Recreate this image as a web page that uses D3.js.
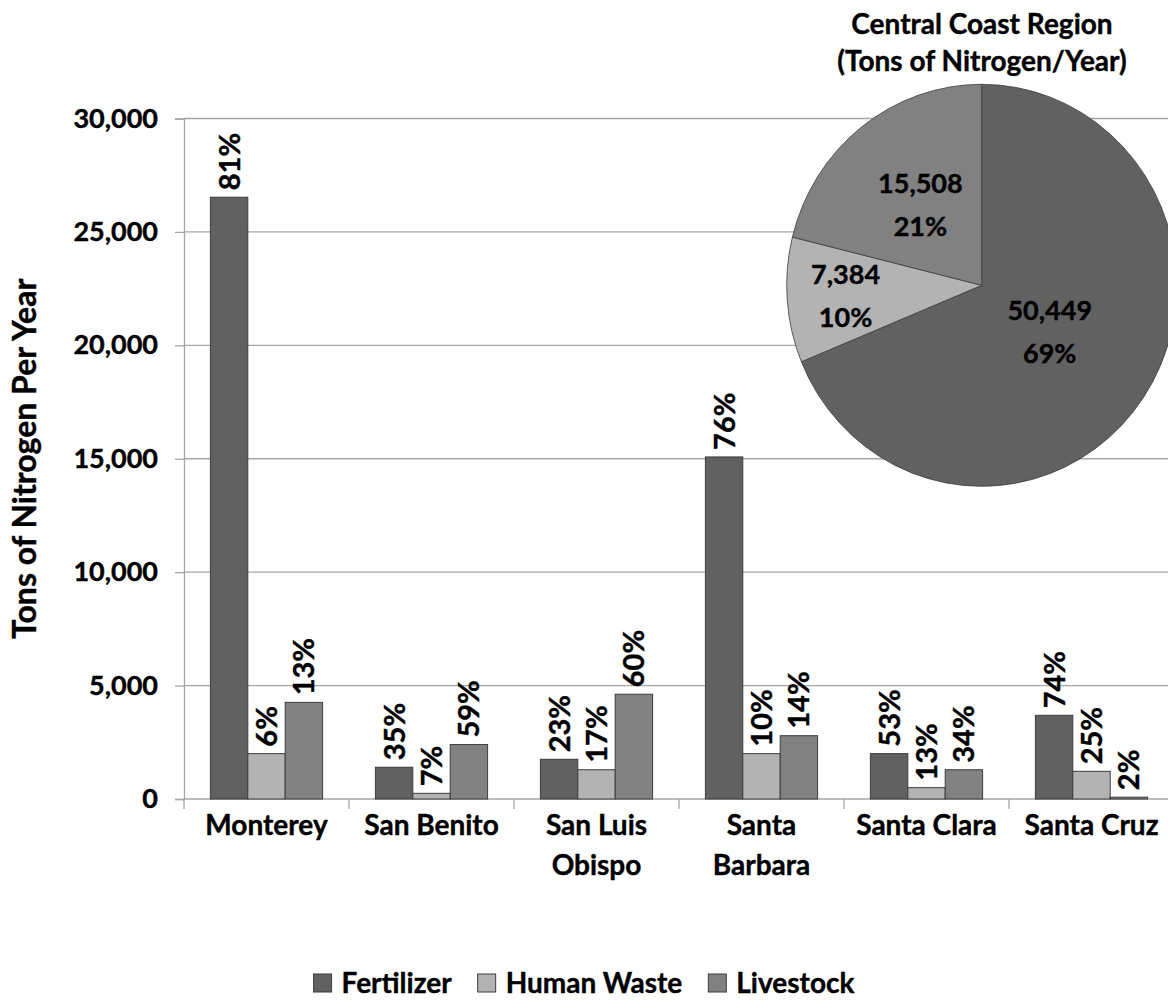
<!DOCTYPE html>
<html>
<head>
<meta charset="utf-8">
<script src="https://cdn.jsdelivr.net/npm/d3@7"></script>
<style>
  body { margin: 0; background: #fff; }
  text { font-family: Lato, "Open Sans", sans-serif; font-weight: bold; fill: #000; stroke: #000; stroke-width: 0.4px; }
</style>
</head>
<body>
<div id="chart"></div>
<script>
const counties = [['Monterey'], ['San Benito'], ['San Luis', 'Obispo'], ['Santa', 'Barbara'], ['Santa Clara'], ['Santa Cruz']];
const seriesNames = ['Fertilizer', 'Human Waste', 'Livestock'];
const fertilizer = [26530, 1400, 1750, 15080, 2000, 3690];
const humanWaste = [2000, 250, 1290, 2000, 500, 1220];
const livestock = [4260, 2400, 4620, 2790, 1290, 80];
const fertilizerPct = ['81%', '35%', '23%', '76%', '53%', '74%'];
const humanWastePct = ['6%', '7%', '17%', '10%', '13%', '25%'];
const livestockPct = ['13%', '59%', '60%', '14%', '34%', '2%'];
const yTicks = [0, 5000, 10000, 15000, 20000, 25000, 30000];
const regionTotals = [50449, 7384, 15508];
const regionPct = ['69%', '10%', '21%'];
const pieTitle = ['Central Coast Region', '(Tons of Nitrogen/Year)'];

const colors = ['#616161', '#b3b3b3', '#818181'];
const labelRadius = [0.42, 0.70, 0.51];

let width = 1168, height = 1000;
let plot = {left: 184, right: 1174, top: 118.5, bottom: 799};

let svg = d3.select('#chart').append('svg')
    .attr('width', width)
    .attr('height', height);
svg.append('rect').attr('width', width).attr('height', height).attr('fill', '#fff');

let y = d3.scaleLinear().domain([0, 30000]).range([plot.bottom, plot.top]);
let x0 = d3.scaleBand()
    .domain(d3.range(counties.length))
    .range([plot.left, plot.right])
    .paddingInner(0.32)
    .paddingOuter(0.16);
let x1 = d3.scaleBand().domain(d3.range(3)).range([0, x0.bandwidth()]);
let step = x0.step();

let series = [fertilizer, humanWaste, livestock];
let pcts = [fertilizerPct, humanWastePct, livestockPct];

// gridlines
svg.append('g').selectAll('line.grid')
    .data(yTicks.filter(d => d > 0)).enter().append('line')
    .attr('x1', plot.left).attr('x2', width)
    .attr('y1', d => y(d)).attr('y2', d => y(d))
    .attr('stroke', '#a6a6a6').attr('stroke-width', 1.3);

// y axis
let yAxis = svg.append('g')
    .attr('transform', 'translate(' + plot.left + ',0)')
    .call(d3.axisLeft(y).tickValues(yTicks).tickSize(9).tickPadding(17).tickFormat(d3.format(',')));
yAxis.select('.domain').attr('stroke', '#a6a6a6').attr('stroke-width', 1.3);
yAxis.selectAll('.tick line').attr('stroke', '#a6a6a6').attr('stroke-width', 1.3);
yAxis.selectAll('.tick text')
    .attr('font-size', 27).attr('font-family', 'Lato').attr('font-weight', 'bold')
    .attr('fill', '#000').attr('stroke', '#000').attr('stroke-width', 0.4);

// x axis line and ticks at category boundaries
svg.append('line')
    .attr('x1', plot.left).attr('x2', width)
    .attr('y1', plot.bottom).attr('y2', plot.bottom)
    .attr('stroke', '#a6a6a6').attr('stroke-width', 1.3);
svg.append('g').selectAll('line.xt')
    .data(d3.range(counties.length + 1)).enter().append('line')
    .attr('x1', d => plot.left + d * step).attr('x2', d => plot.left + d * step)
    .attr('y1', plot.bottom).attr('y2', plot.bottom + 10)
    .attr('stroke', '#a6a6a6').attr('stroke-width', 1.3);

// category labels
let cat = svg.append('g').selectAll('text.cat')
    .data(counties).enter().append('text')
    .attr('text-anchor', 'middle')
    .attr('font-size', 28)
    .attr('x', (d, i) => x0(i) + x0.bandwidth() / 2)
    .attr('y', 835);
cat.selectAll('tspan').data(d => d).enter().append('tspan')
    .attr('x', function() { return d3.select(this.parentNode).attr('x'); })
    .attr('dy', (d, i) => i === 0 ? 0 : 40)
    .text(d => d);

// bars
series.forEach(function(vals, s) {
    let g = svg.append('g');
    g.selectAll('rect').data(vals).enter().append('rect')
        .attr('x', (d, i) => x0(i) + x1(s))
        .attr('y', d => y(d))
        .attr('width', x1.bandwidth())
        .attr('height', d => y(0) - y(d))
        .attr('fill', colors[s])
        .attr('stroke', '#3c3c3c')
        .attr('stroke-width', 1);
    g.selectAll('text').data(vals).enter().append('text')
        .attr('transform', (d, i) => 'translate(' + (x0(i) + x1(s) + x1.bandwidth() / 2) + ',' + (y(d) - 7) + ') rotate(-90)')
        .attr('dy', '0.36em')
        .attr('font-size', 29)
        .text((d, i) => pcts[s][i]);
});

// y axis title
svg.append('text')
    .attr('transform', 'translate(24,' + ((plot.top + plot.bottom) / 2) + ') rotate(-90)')
    .attr('text-anchor', 'middle')
    .attr('dy', '0.36em')
    .attr('font-size', 32)
    .text('Tons of Nitrogen Per Year');

// pie
let pieC = {x: 981.7, y: 285.3, rx: 195, ry: 201};
let pie = d3.pie().sort(null).value(d => d);
let arcs = pie(regionTotals);
let arc = d3.arc().innerRadius(0).outerRadius(pieC.ry);
let pg = svg.append('g')
    .attr('transform', 'translate(' + pieC.x + ',' + pieC.y + ')');
pg.append('g').attr('transform', 'scale(' + (pieC.rx / pieC.ry) + ',1)')
    .selectAll('path').data(arcs).enter().append('path')
    .attr('d', arc)
    .attr('fill', (d, i) => colors[i])
    .attr('stroke', '#3c3c3c')
    .attr('stroke-width', 0.8)
    .attr('vector-effect', 'non-scaling-stroke');
let pl = pg.selectAll('text.pl').data(arcs).enter().append('text')
    .attr('text-anchor', 'middle')
    .attr('font-size', 27)
    .attr('transform', function(d, i) {
        let a = (d.startAngle + d.endAngle) / 2;
        let r = labelRadius[i];
        return 'translate(' + (Math.sin(a) * r * pieC.rx) + ',' + (-Math.cos(a) * r * pieC.ry) + ')';
    });
pl.append('tspan').attr('x', 0).attr('y', -12).text(d => d3.format(',')(d.value));
pl.append('tspan').attr('x', 0).attr('y', 31).text((d, i) => regionPct[i]);

// pie title
svg.append('g').selectAll('text.pt')
    .data(pieTitle).enter().append('text')
    .attr('text-anchor', 'middle')
    .attr('font-size', 28)
    .attr('x', 982)
    .attr('y', (d, i) => 34 + i * 37)
    .text(d => d);

// legend
let legend = svg.append('g');
let lx = 0;
seriesNames.forEach(function(name, i) {
    let item = legend.append('g').attr('transform', 'translate(' + lx + ',0)');
    item.append('rect')
        .attr('x', 0).attr('y', -19).attr('width', 18).attr('height', 18)
        .attr('fill', colors[i]).attr('stroke', '#3c3c3c').attr('stroke-width', 1);
    let t = item.append('text').attr('x', 28).attr('y', 0).attr('font-size', 28).text(name);
    lx += 28 + t.node().getComputedTextLength() + 26;
});
legend.attr('transform', 'translate(' + (584 - (lx - 26) / 2) + ',993)');
</script>
</body>
</html>
